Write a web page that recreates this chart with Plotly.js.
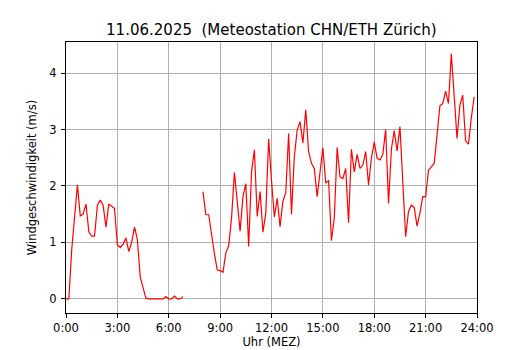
<!DOCTYPE html>
<html>
<head>
<meta charset="utf-8">
<script src="https://cdn.plot.ly/plotly-3.0.1.min.js"></script>
<style>html,body{margin:0;padding:0;background:#fff;}#chart{width:530px;height:350px;}</style>
</head>
<body>
<div id="chart"></div>
<script>
// 10-minute values, 00:00 .. 23:50 (null = no data)
const speeds = [
  0.00, 0.00, 0.87, 1.45, 2.02, 1.47, 1.50, 1.68, 1.19, 1.11, 1.11, 1.66, // 00:00-01:50
  1.75, 1.66, 1.27, 1.68, 1.64, 1.60, 0.96, 0.91, 0.97, 1.08, 0.84, 1.00, // 02:00-03:50
  1.27, 1.06, 0.39, 0.19, 0.01, 0.00, 0.00, 0.00, 0.00, 0.00, 0.00, 0.04, // 04:00-05:50
  0.00, 0.00, 0.05, 0.00, 0.00, 0.04, null, null, null, null, null, null, // 06:00-07:50
  1.90, 1.49, 1.49, 1.10, 0.80, 0.51, 0.50, 0.47, 0.81, 0.94, 1.43, 2.24, // 08:00-09:50
  1.70, 1.20, 1.81, 2.04, 0.93, 2.25, 2.64, 1.46, 1.90, 1.18, 1.52, 2.83, // 10:00-11:50
  2.10, 1.45, 1.78, 1.28, 1.73, 1.88, 2.93, 1.50, 2.52, 2.99, 3.14, 2.76, // 12:00-13:50
  3.35, 2.61, 2.40, 2.31, 1.81, 2.28, 2.68, 2.05, 2.10, 1.03, 1.43, 2.68, // 14:00-15:50
  2.16, 2.13, 2.31, 1.35, 2.65, 2.25, 2.56, 2.31, 2.37, 2.61, 2.02, 2.49, // 16:00-17:50
  2.78, 2.49, 2.46, 2.56, 3.00, 1.69, 2.65, 2.98, 2.62, 3.05, 2.10, 1.10, // 18:00-19:50
  1.55, 1.66, 1.62, 1.29, 1.52, 1.81, 1.81, 2.28, 2.34, 2.40, 2.90, 3.42, // 20:00-21:50
  3.46, 3.68, 3.46, 4.34, 3.60, 2.84, 3.43, 3.61, 2.80, 2.74, 3.20, 3.58  // 22:00-23:50
];
const stepMinutes = 10;
const tickHours = [0, 3, 6, 9, 12, 15, 18, 21, 24];
const tickLabels = ["0:00", "3:00", "6:00", "9:00", "12:00", "15:00", "18:00", "21:00", "24:00"];
const yTicks = [0, 1, 2, 3, 4];

const hours = speeds.map((_, i) => i * stepMinutes / 60);

const data = [{
  x: hours, y: speeds, type: "scatter", mode: "lines",
  line: {color: "#ff0000", width: 1.2}, connectgaps: false, hoverinfo: "none"
}];
const layout = {
  width: 530, height: 350,
  margin: {l: 66, r: 53, t: 42, b: 37},
  paper_bgcolor: "#fff", plot_bgcolor: "#fff",
  showlegend: false,
  title: {text: "11.06.2025  (Meteostation CHN/ETH Zürich)", font: {family: "DejaVu Sans", size: 15, color: "#000"},
          x: 0.512, xanchor: "center", y: 0.915, yanchor: "middle"},
  xaxis: {
    range: [0, 24], tickvals: tickHours, ticktext: tickLabels,
    showgrid: true, gridcolor: "#b0b0b0", gridwidth: 1,
    showline: true, linecolor: "#000", linewidth: 1, mirror: true,
    ticks: "outside", ticklen: 4, tickcolor: "#000", zeroline: false,
    tickfont: {family: "DejaVu Sans", size: 11.5, color: "#000"},
    title: {text: "Uhr (MEZ)", font: {family: "DejaVu Sans", size: 11.5, color: "#000"}, standoff: 4}
  },
  yaxis: {
    range: [-0.25, 4.55], tickvals: yTicks, ticktext: yTicks.map(String),
    showgrid: true, gridcolor: "#b0b0b0", gridwidth: 1,
    showline: true, linecolor: "#000", linewidth: 1, mirror: true,
    ticks: "outside", ticklen: 4, tickcolor: "#000", zeroline: false,
    ticklabelstandoff: 2,
    tickfont: {family: "DejaVu Sans", size: 11.5, color: "#000"},
    title: {text: "Windgeschwindigkeit (m/s)", font: {family: "DejaVu Sans", size: 11.5, color: "#000"}, standoff: 10}
  }
};
Plotly.newPlot("chart", data, layout, {staticPlot: true, displayModeBar: false});
</script>
</body>
</html>
